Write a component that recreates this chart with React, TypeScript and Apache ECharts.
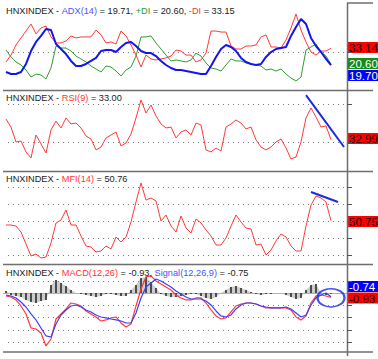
import React, { useEffect, useRef } from 'react';
import * as echarts from 'echarts';

// ---- data (one value per trading session, index 0..65) ----
const adxMinusDI = [22.3, 27.8, 35.8, 41.4, 46.9, 52.5, 44.6, 49.3, 50.9, 42.2, 37.4, 37.4, 39.0, 43.0, 41.4, 42.2, 42.2, 42.2, 47.7, 43.8, 37.4, 38.2, 36.6, 46.9, 43.0, 35.8, 27.8, 18.3, 27.8, 24.7, 23.9, 24.7, 25.5, 27.0, 31.8, 31.0, 27.8, 27.8, 22.3, 23.9, 29.4, 46.9, 46.9, 46.1, 46.1, 35.0, 32.6, 32.6, 35.0, 35.0, 35.8, 42.2, 43.8, 34.2, 34.2, 33.4, 39.8, 49.3, 60.5, 47.7, 38.2, 30.2, 27.8, 31.0, 31.0, 33.15];
const adxPlusDI = [31.8, 26.3, 22.3, 19.9, 15.9, 10.3, 12.7, 11.9, 8.8, 17.5, 35.0, 33.4, 33.4, 31.0, 27.0, 24.7, 22.3, 19.1, 16.7, 14.3, 19.1, 18.3, 15.1, 11.1, 15.9, 18.3, 27.0, 42.2, 42.2, 43.0, 37.4, 32.6, 27.8, 23.1, 23.9, 23.1, 22.3, 23.9, 29.4, 27.0, 21.5, 17.5, 16.7, 15.1, 19.9, 24.7, 23.1, 23.1, 21.5, 20.7, 19.9, 19.1, 15.9, 16.7, 15.1, 16.7, 12.7, 9.5, 7.2, 10.3, 31.8, 34.2, 36.6, 30.2, 27.0, 20.60];
const adxLine = [14.3, 12.7, 12.7, 14.3, 20.7, 31.0, 38.2, 43.0, 48.5, 47.7, 36.6, 32.6, 28.6, 23.1, 19.1, 19.1, 20.7, 23.1, 25.5, 31.0, 31.8, 31.8, 30.2, 34.2, 37.4, 38.2, 35.0, 31.0, 29.4, 29.4, 27.0, 23.1, 19.9, 17.5, 15.9, 15.9, 15.1, 14.3, 13.5, 12.7, 12.7, 19.1, 26.3, 32.6, 35.8, 34.2, 31.0, 25.5, 22.3, 20.7, 19.9, 20.7, 26.3, 30.2, 32.6, 33.4, 34.2, 43.0, 50.1, 56.5, 52.5, 41.4, 35.0, 30.2, 24.7, 19.71];
const rsi9 = [54.6, 46.2, 30.5, 31.5, 20.0, 13.7, 37.8, 28.4, 18.9, 43.1, 52.5, 45.2, 55.7, 49.4, 50.4, 45.2, 36.8, 33.6, 22.1, 25.2, 34.7, 37.8, 41.0, 26.3, 29.4, 38.9, 55.7, 74.6, 60.9, 69.3, 57.8, 49.4, 45.2, 46.2, 34.7, 41.0, 43.1, 37.8, 50.4, 48.3, 22.1, 20.0, 24.2, 21.0, 46.2, 49.4, 53.6, 50.4, 44.1, 46.2, 32.6, 25.2, 22.1, 25.2, 30.5, 33.6, 24.2, 12.6, 14.7, 30.5, 55.7, 66.2, 56.7, 46.2, 47.3, 33.0];
const mfi14 = [45.7, 45.7, 44.5, 37.5, 23.4, 9.4, 11.7, 7.0, 8.2, 24.6, 48.1, 51.6, 63.3, 45.7, 45.7, 32.8, 21.1, 19.9, 14.1, 15.2, 21.1, 17.6, 31.7, 25.8, 31.7, 49.2, 72.7, 95.0, 75.0, 77.4, 73.9, 50.4, 57.4, 44.5, 37.5, 56.3, 42.2, 36.3, 52.8, 48.1, 39.9, 32.8, 22.3, 22.3, 30.5, 44.5, 57.4, 49.2, 42.2, 41.0, 22.3, 23.4, 10.6, 16.4, 27.0, 35.2, 31.7, 21.1, 15.2, 15.2, 44.5, 69.2, 79.7, 77.4, 72.7, 50.76];
const macdLine = [-0.61, -0.82, -1.43, -2.66, -4.30, -7.17, -7.38, -8.20, -10.86, -9.43, -5.33, -4.30, -3.28, -2.05, -2.25, -2.66, -3.69, -4.30, -4.92, -5.74, -5.53, -5.12, -4.92, -6.15, -6.97, -6.35, -2.66, 0.82, 3.3, 3.5, 2.46, 1.84, 1.23, 0.61, -0.41, -1.02, -1.43, -1.43, -1.02, -1.02, -2.05, -3.48, -4.71, -5.33, -5.12, -3.89, -2.66, -2.25, -2.05, -2.05, -2.25, -2.66, -3.07, -3.07, -3.07, -3.07, -3.07, -3.48, -4.92, -5.53, -4.71, -2.05, -0.61, -0.41, -0.61, -0.93];
const signalLine = [-0.41, -0.61, -1.02, -1.84, -2.87, -4.30, -5.53, -7.17, -8.81, -9.02, -6.35, -4.51, -3.48, -2.66, -2.46, -2.87, -3.48, -3.89, -4.51, -4.92, -5.12, -5.33, -5.53, -5.74, -6.15, -6.15, -4.10, -1.02, 1.23, 2.05, 2.87, 2.46, 1.84, 1.23, 0.41, -0.20, -0.82, -1.23, -1.23, -1.23, -1.64, -2.46, -3.69, -4.71, -4.92, -4.51, -3.28, -2.46, -2.05, -2.05, -2.25, -2.66, -2.87, -3.07, -3.07, -3.07, -2.87, -3.28, -4.10, -4.92, -4.51, -2.46, -1.02, -0.41, 0, -0.75];
const macdHist = [0.41, -0.41, -0.61, -0.82, -1.43, -1.84, -2.05, -1.64, -1.43, 1.64, 2.66, 2.05, 1.43, 0.61, 0, -0.2, -0.41, -0.61, -0.82, -0.61, -0.2, -0.2, -0.41, -0.61, -0.61, 0.61, 1.64, 3.07, 3.28, 2.25, 1.02, -0.2, -0.61, -0.82, -0.82, -0.61, -0.41, -0.2, -0.2, -0.61, -1.02, -1.23, -0.82, 0, 0.61, 1.23, 1.43, 1.02, 0.61, 0.2, -0.2, -0.41, -0.2, -0.2, 0, 0, -0.41, -0.82, -1.23, -1.02, 0.61, 1.64, 1.84, 0, -0.41, -0.18];

// trend lines / annotation [index, value]
const rsiTrend = [[60, 79.8], [67.6, 25.2]];
const mfiTrend = [[61, 84.4], [66.4, 72.7]];
const macdCircle = [[65, -1.0]];

// gridline levels
const adxLevels = [30];
const rsiLevels = [70, 30];
const mfiLevels = [10, 30, 50, 70, 90];
const macdLevels = [2.5, -2.5, -5, -7.5, -10];
const panelLevels = [adxLevels, rsiLevels, mfiLevels, macdLevels];

// titles: [text, colour key] segments
const titleAdx = [['HNXINDEX - ', 'k'], ['ADX(14)', 'b'], [' = 19.71, ', 'k'], ['+DI', 'g'], [' = 20.60, ', 'k'], ['-DI', 'r'], [' = 33.15', 'k']];
const titleRsi = [['HNXINDEX - ', 'k'], ['RSI(9)', 'r'], [' = 33.00', 'k']];
const titleMfi = [['HNXINDEX - ', 'k'], ['MFI(14)', 'r'], [' = 50.76', 'k']];
const titleMacd = [['HNXINDEX - ', 'k'], ['MACD(12,26)', 'r'], [' = -0.93, ', 'k'], ['Signal(12,26,9)', 'b'], [' = -0.75', 'k']];

// last-value tags
const tagsAdx = ['33.14', '20.60', '19.70'];
const tagRsi = '32.99';
const tagMfi = '50.75';
const tagsMacd = ['-0.74', '-0.93'];

const FONT = 'Liberation Sans';
const RED = '#ff3a3a';
const GREEN = '#2f9e2f';
const BLUE = '#1414f0';
const TITLE_COLORS: Record<string, string> = { k: '#222222', b: '#4f4fff', g: '#2a9a2a', r: '#ff3535' };

const pairs = (arr: number[]) => arr.map((v, i) => [i, v]);

function buildOption() {
  const grids = [
    { left: 3, width: 344, top: 2, height: 88 },
    { left: 3, width: 344, top: 92, height: 79 },
    { left: 3, width: 344, top: 171, height: 93 },
    { left: 3, width: 344, top: 265, height: 87 },
  ];
  const yr = [
    [0, 70],
    [0, 83],
    [0, 109],
    [-12.1, 5.74],
  ];

  const xAxis = grids.map((_, k) => ({
    type: 'value', gridIndex: k, min: -0.6, max: 68.2, show: false,
  }));
  const yAxis = yr.map(([mn, mx], k) => ({
    type: 'value', gridIndex: k, min: mn, max: mx, show: false,
  }));

  const line = (k: number, data: any, color: string, width: number, extra: any = {}) => ({
    type: 'line', xAxisIndex: k, yAxisIndex: k, data, showSymbol: false, symbol: 'none',
    lineStyle: { color, width }, silent: true, z: 3, ...extra,
  });

  const series: any[] = [
    line(0, pairs(adxPlusDI), GREEN, 1),
    line(0, pairs(adxMinusDI), RED, 1),
    line(0, pairs(adxLine), BLUE, 2, { z: 4 }),

    line(1, pairs(rsi9), RED, 1),
    line(1, rsiTrend, '#1a2be0', 2, { z: 4 }),

    line(2, pairs(mfi14), RED, 1),
    line(2, mfiTrend, '#1a2be0', 2, { z: 4 }),

    // histogram: light grey body with dark stripes
    line(3, pairs(macdHist), '#9a9a9a', 0, {
      z: 1, lineStyle: { width: 0, color: '#9a9a9a' }, areaStyle: { color: '#b8b8b8', origin: 0 },
    }),
    {
      type: 'bar', xAxisIndex: 3, yAxisIndex: 3, data: pairs(macdHist), barWidth: 1.5,
      itemStyle: { color: '#222' }, silent: true, z: 2,
    },
    line(3, pairs(macdLine), RED, 1.2),
    line(3, pairs(signalLine), '#3d3dff', 1.2),
    {
      type: 'scatter', xAxisIndex: 3, yAxisIndex: 3, data: macdCircle, symbol: 'circle',
      symbolSize: [27, 18], silent: true, z: 5,
      itemStyle: { color: 'rgba(0,0,0,0)', borderColor: '#1a2be0', borderWidth: 2 },
    },
  ];

  return {
    animation: false,
    backgroundColor: '#ffffff',
    grid: grids,
    xAxis,
    yAxis,
    series,
  };
}

function buildGraphic(chart: echarts.ECharts) {
  let ctx: CanvasRenderingContext2D | null = null;
  try { ctx = document.createElement('canvas').getContext('2d'); } catch (e) { ctx = null; }
  const measureAt = (s: string, size: number) => {
    if (ctx) { ctx.font = `${size}px ${FONT}`; return ctx.measureText(s).width; }
    return s.length * size * 0.47;
  };
  // the ADX title spans ~229px in the reference; fit the font size to that
  const adxPlain = titleAdx.map((s) => s[0]).join('');
  const w10 = measureAt(adxPlain, 10);
  const fs = w10 > 0 ? Math.max(8, Math.min(10.5, (10 * 229) / w10)) : 9.3;

  const title = (y: number, segs: string[][]) => {
    const out: any[] = [];
    let x = 6;
    segs.forEach(([t, c]) => {
      out.push({ type: 'text', x, y, z: 20, style: { text: t, fill: TITLE_COLORS[c], fontSize: fs, fontFamily: FONT, verticalAlign: 'middle' } });
      x += measureAt(t, fs);
    });
    return out;
  };
  const tag = (y: number, text: string, bg: string, fg: string) => ({
    type: 'group', z: 20,
    children: [
      { type: 'rect', shape: { x: 348, y, width: 32, height: 11 }, style: { fill: bg } },
      { type: 'text', x: 349, y: y + 6, style: { text, fill: fg, fontSize: 11.5, fontFamily: FONT, verticalAlign: 'middle' } },
    ],
  });
  const hline = (y: number, x1: number, x2: number) => ({
    type: 'line', z: 15, shape: { x1, y1: y, x2, y2: y }, style: { stroke: '#6e6e6e', lineWidth: 1.5 },
  });

  const grid: any[] = [];
  panelLevels.forEach((lv, k) => {
    lv.forEach((v) => {
      const py = Math.round(chart.convertToPixel({ yAxisIndex: k } as any, v) as unknown as number) + 0.5;
      grid.push({ type: 'line', z: 1, silent: true, shape: { x1: 8, y1: py, x2: 346, y2: py }, style: { stroke: '#7a7a7a', lineWidth: 1, lineDash: [1, 4] } });
      grid.push({ type: 'line', z: 16, shape: { x1: 347, y1: py, x2: 352, y2: py }, style: { stroke: '#555', lineWidth: 1 } });
    });
  });
  const zeroY = Math.round(chart.convertToPixel({ yAxisIndex: 3 } as any, 0) as unknown as number) + 0.5;
  grid.push({ type: 'line', z: 1, shape: { x1: 3, y1: zeroY, x2: 347, y2: zeroY }, style: { stroke: '#b0b0b0', lineWidth: 1 } });

  return [
    ...grid,
    hline(3, 347, 373),
    hline(90.5, 3, 373),
    hline(171.5, 3, 373),
    hline(264.5, 3, 373),
    hline(352, 3, 373),
    { type: 'line', z: 15, shape: { x1: 347.5, y1: 3, x2: 347.5, y2: 356 }, style: { stroke: '#6e6e6e', lineWidth: 1.5 } },
    ...title(10.5, titleAdx),
    ...title(97.5, titleRsi),
    ...title(178.5, titleMfi),
    ...title(272.5, titleMacd),
    tag(42, tagsAdx[0], '#ff0000', '#200000'),
    tag(58, tagsAdx[1], '#178a17', '#ffffff'),
    tag(70, tagsAdx[2], '#0000ff', '#ffffff'),
    tag(133, tagRsi, '#ff0000', '#200000'),
    tag(216, tagMfi, '#ff0000', '#200000'),
    tag(281, tagsMacd[0], '#0000ff', '#ffffff'),
    tag(292.5, tagsMacd[1], '#ff0000', '#200000'),
  ];
}

export default function App() {
  const ref = useRef<HTMLDivElement>(null);
  useEffect(() => {
    const chart = echarts.init(ref.current!, null, { renderer: 'svg' });
    chart.setOption(buildOption() as any);
    chart.setOption({ graphic: buildGraphic(chart) } as any);
    return () => chart.dispose();
  }, []);
  return (
    <div
      ref={ref}
      style={{ position: 'fixed', left: 0, top: 0, width: 378, height: 359, background: '#fff' }}
    />
  );
}
